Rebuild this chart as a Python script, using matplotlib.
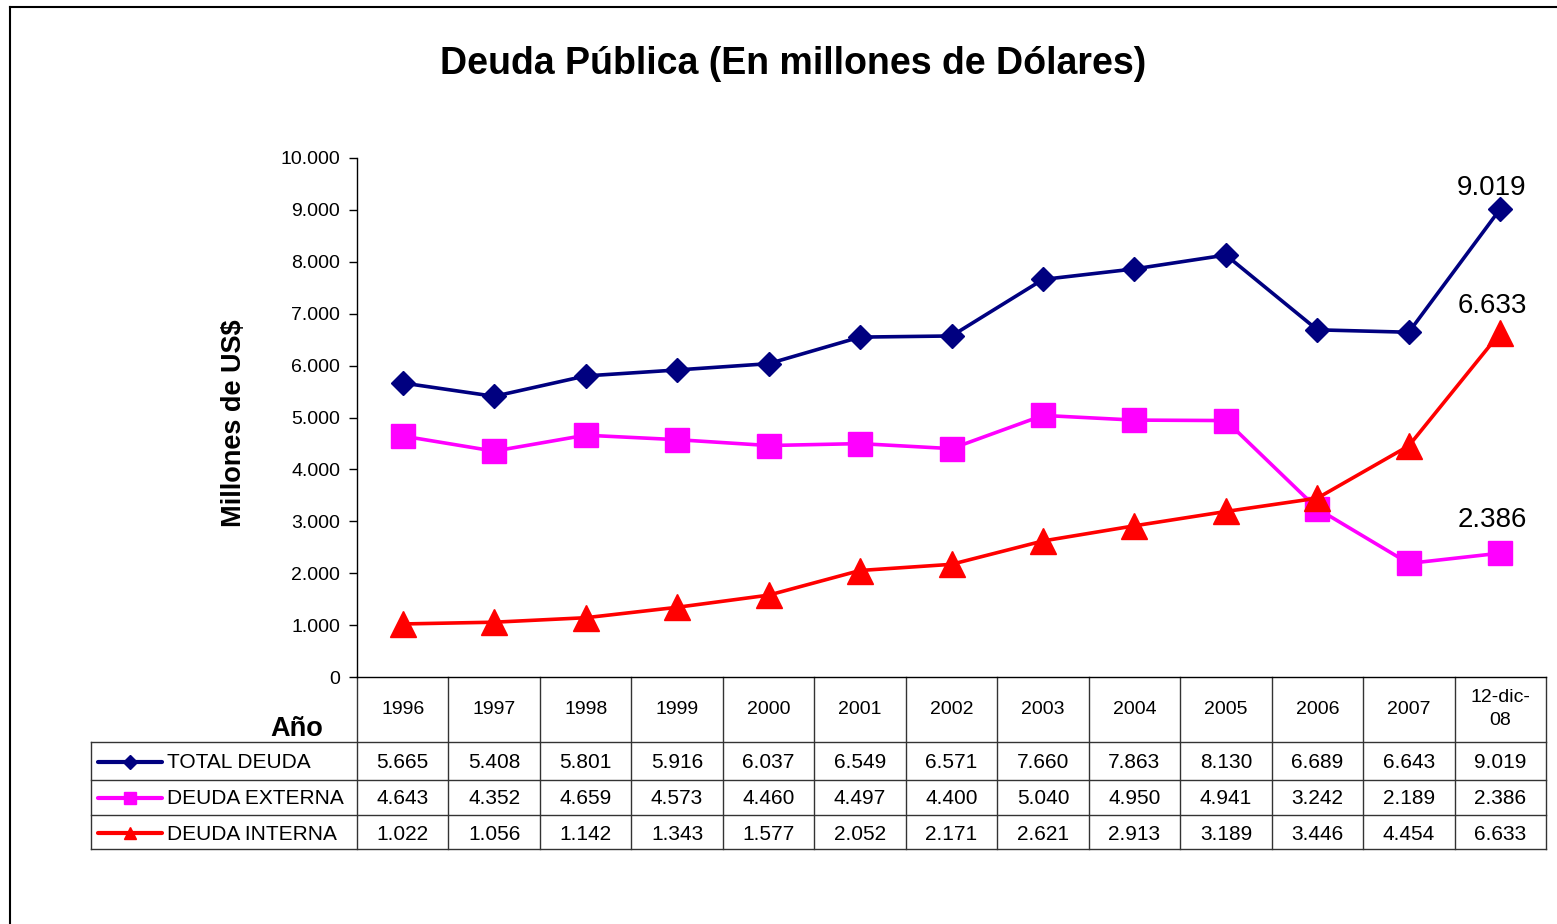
import matplotlib
matplotlib.use("Agg")
import matplotlib.pyplot as plt
from matplotlib.transforms import blended_transform_factory
from matplotlib.ticker import FixedLocator, FuncFormatter

plt.rcParams['font.family'] = ['Liberation Sans', 'DejaVu Sans']

years = ["1996", "1997", "1998", "1999", "2000", "2001", "2002", "2003",
         "2004", "2005", "2006", "2007", "12-dic-\n08"]
total_deuda = [5665, 5408, 5801, 5916, 6037, 6549, 6571, 7660, 7863, 8130, 6689, 6643, 9019]
deuda_externa = [4643, 4352, 4659, 4573, 4460, 4497, 4400, 5040, 4950, 4941, 3242, 2189, 2386]
deuda_interna = [1022, 1056, 1142, 1343, 1577, 2052, 2171, 2621, 2913, 3189, 3446, 4454, 6633]

# name, values, colour, marker, marker size, key marker size, label offset (px)
series = [
    ("TOTAL DEUDA", total_deuda, "#000080", "D", 12.5, 7, 21),
    ("DEUDA EXTERNA", deuda_externa, "#FF00FF", "s", 17, 8, 33),
    ("DEUDA INTERNA", deuda_interna, "#FF0000", "^", 19, 9, 27),
]

W, H = 1557, 924
fig = plt.figure(figsize=(W / 100, H / 100), dpi=100)

# overlay axes in pixel coordinates (y from top)
ov = fig.add_axes([0, 0, 1, 1])
ov.set_xlim(0, W)
ov.set_ylim(H, 0)
ov.axis("off")

# main axes
L, R, T, B = 357, 1546, 158, 677
ax = fig.add_axes([L / W, (H - B) / H, (R - L) / W, (B - T) / H])
ax.set_xlim(-0.5, len(years) - 0.5)
ax.set_ylim(0, 10000)
ax.patch.set_alpha(0)
for s in ["top", "right"]:
    ax.spines[s].set_visible(False)
ax.spines["left"].set_linewidth(1.0)
ax.spines["bottom"].set_linewidth(1.0)
ax.yaxis.set_major_locator(FixedLocator(range(0, 10001, 1000)))
ax.yaxis.set_major_formatter(FuncFormatter(lambda v, p: f"{int(v):,}".replace(",", ".")))
ax.tick_params(axis="y", direction="out", length=6, width=1.0, labelsize=14, pad=6)
ax.set_xticks([])
ax.set_ylabel("Millones de US$", fontsize=19.5, fontweight="bold")
ax.yaxis.set_label_coords(-0.0925, 0.489)

x = list(range(len(years)))
for name, vals, col, mk, ms, _, off in series:
    ax.plot(x, vals, color=col, lw=2.6, marker=mk, markersize=ms, clip_on=False, zorder=3)
    ax.annotate(f"{vals[-1]:,}".replace(",", "."), (x[-1], vals[-1]),
                xytext=(-6, off * 0.72), textcoords="offset points", ha="center", va="center",
                fontsize=20, color="black")

# title
ov.text(793, 64, "Deuda Pública (En millones de Dólares)", ha="center", va="center",
        fontsize=27, fontweight="bold")

# outer frame
ov.plot([10, 10], [H, 7], color="black", lw=1.5)
ov.plot([10, W], [7, 7], color="black", lw=1.5)

# table
bt = blended_transform_factory(ax.transData, ov.transData)
lc = "#333333"
lw = 1.0
row_y = [742, 780, 815, 849]
TL = 91
for yy in row_y:
    ov.plot([TL, R], [yy, yy], color=lc, lw=lw)
ov.plot([TL, TL], [742, 849], color=lc, lw=lw)
for i in range(len(years) + 1):
    ov.plot([i - 0.5, i - 0.5], [B, 849], color=lc, lw=lw, transform=bt)

for i, yr in enumerate(years):
    ov.text(i, 709, yr, ha="center", va="center", fontsize=14, transform=bt, linespacing=1.5)

ov.text(323, 729, "Año", ha="right", va="center", fontsize=19.5, fontweight="bold")

centers = [762, 798, 833]
for (name, vals, col, mk, ms, kms, off), cy in zip(series, centers):
    ov.plot([98, 162], [cy, cy], color=col, lw=3, solid_capstyle="round")
    ov.plot([130], [cy], color=col, marker=mk, markersize=kms, lw=0)
    ov.text(167, cy + 1, name, ha="left", va="center", fontsize=15)
    for i, v in enumerate(vals):
        ov.text(i, cy + 1, f"{v:,}".replace(",", "."), ha="center", va="center",
                fontsize=15, transform=bt)

fig.savefig("out.png", dpi=100)
